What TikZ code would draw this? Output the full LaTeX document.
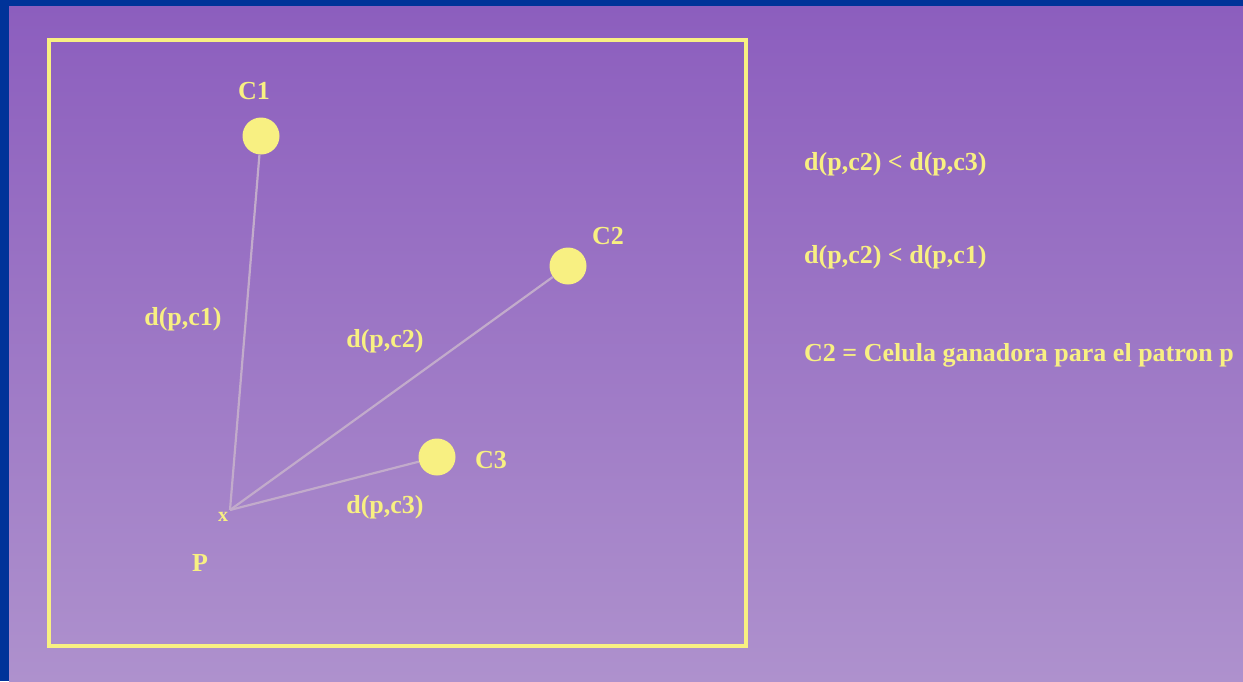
\documentclass[tikz,border=0pt]{standalone}
\usepackage{fontspec}
\setmainfont{Liberation Serif}
\definecolor{bgblue}{HTML}{003399}
\definecolor{bgtop}{HTML}{8C5EBE}
\definecolor{bgbot}{HTML}{AE91CD}
\definecolor{ylw}{HTML}{F8F082}
\definecolor{lnc}{HTML}{C2ABCB}
\begin{document}
\begin{tikzpicture}[x=1pt,y=-1pt,
  lbl/.style={text=ylw,font=\bfseries\fontsize{26}{28}\selectfont,inner sep=0pt},
  rlbl/.style={text=ylw,font=\bfseries\fontsize{26}{28}\selectfont,inner sep=0pt,anchor=west},
  dot/.style={circle,fill=ylw,draw=none,minimum size=37pt,inner sep=0pt},
  link/.style={draw=lnc,line width=2.2pt}]
\useasboundingbox (0,0) rectangle (1243,681);
\fill[bgblue] (0,0) rectangle (1243,681);
\shade[top color=bgtop,bottom color=bgbot] (9,6) rectangle (1243,681);
\draw[ylw,line width=4pt] (49,40) rectangle (746,646);
\node[dot] (c1) at (261,136) {};
\node[dot] (c2) at (568,266) {};
\node[dot] (c3) at (437,457) {};
\coordinate (p) at (230,510);
\draw[link] (c1) -- (p);
\draw[link] (c2) -- (p);
\draw[link] (c3) -- (p);
\node[lbl] (lc1) at (254,91) {C1};
\node[lbl] (lc2) at (608,236) {C2};
\node[lbl] (lc3) at (491,460) {C3};
\node[text=ylw,font=\bfseries\fontsize{20}{22}\selectfont,inner sep=0pt] (px) at (223,517) {x};
\node[lbl] (lp) at (200,563) {P};
\node[lbl] (d1) at (183,319) {d(p,c1)};
\node[lbl] (d2) at (385,341) {d(p,c2)};
\node[lbl] (d3) at (385,507) {d(p,c3)};
\node[rlbl] (r1) at (804,164) {d(p,c2) < d(p,c3)};
\node[rlbl] (r2) at (804,257) {d(p,c2) < d(p,c1)};
\node[rlbl] (r3) at (804,355) {C2 = Celula ganadora para el patron p};
\end{tikzpicture}
\end{document}
